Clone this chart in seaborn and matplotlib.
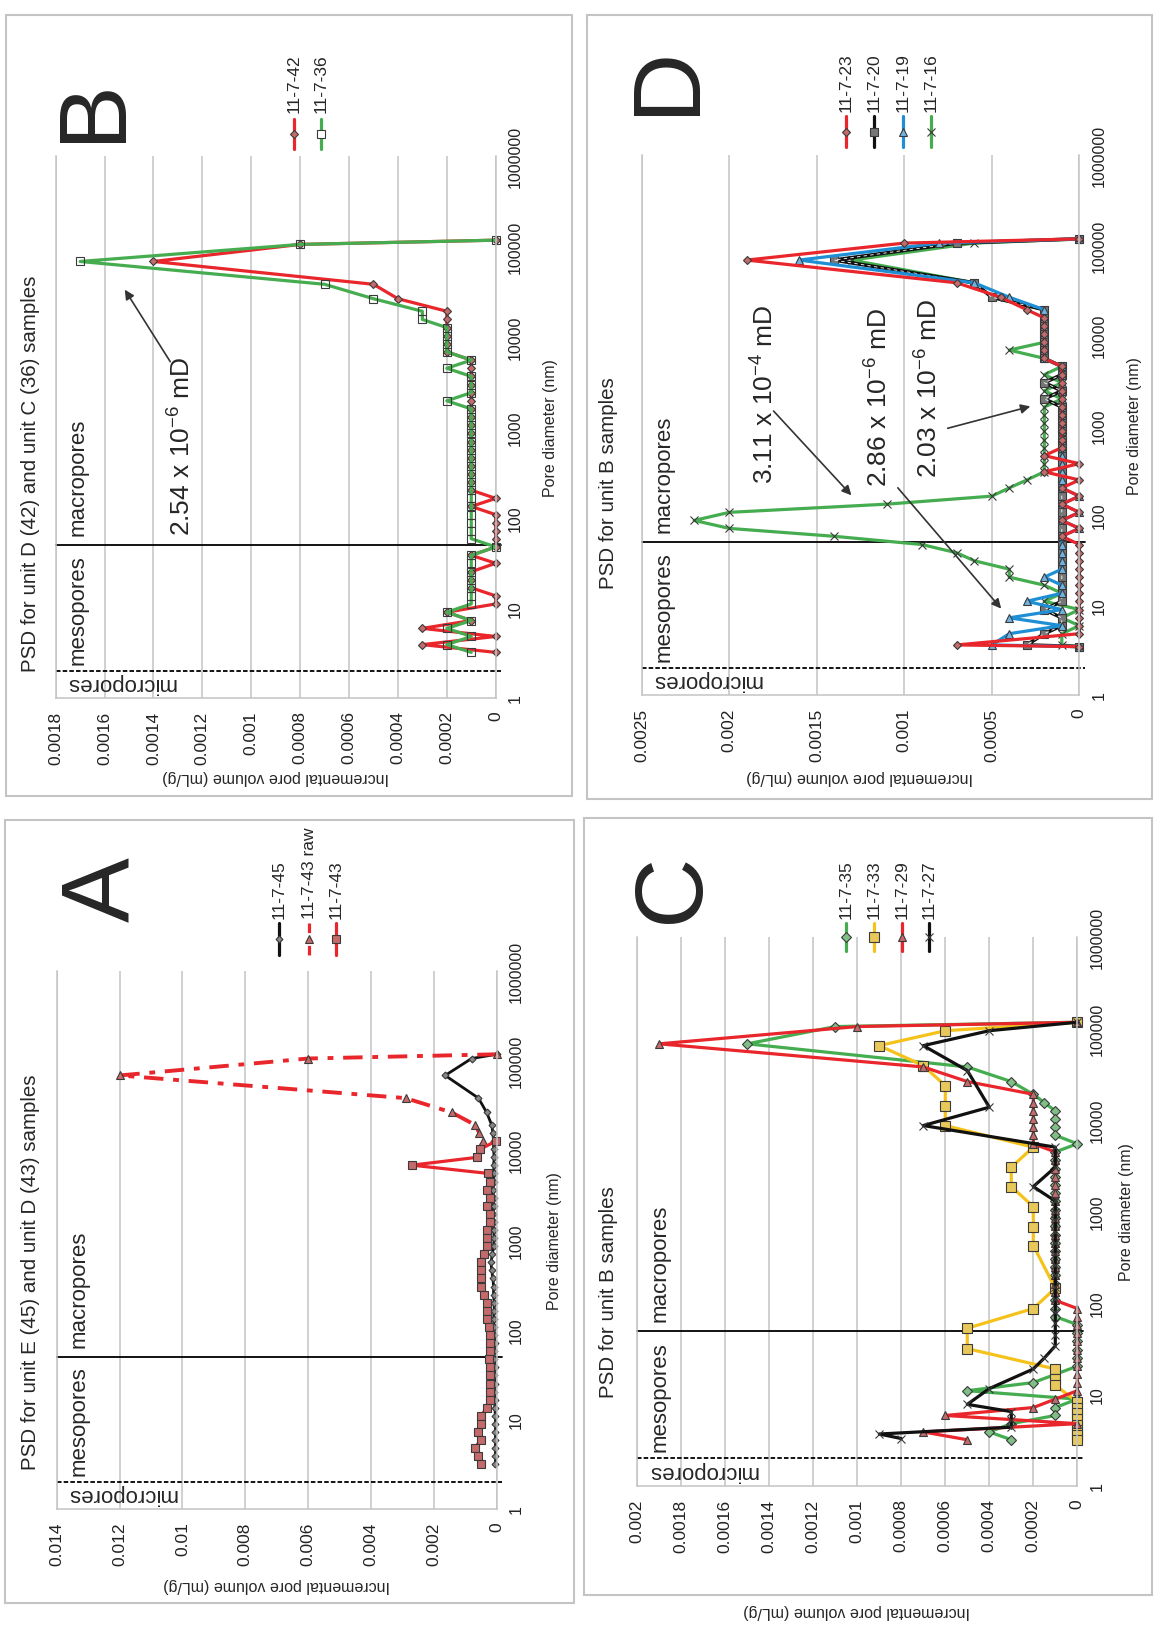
import numpy as np
import pandas as pd
import seaborn as sns
import matplotlib.pyplot as plt
from matplotlib.lines import Line2D
from matplotlib.patches import Rectangle, FancyArrowPatch
from matplotlib.ticker import NullLocator

W, H = 1159, 1631

# pore diameters (nm), largest first, shared by most series
PORE_NM = [117000, 105000, 68000, 38000, 26300, 19100, 15500, 12600, 10200, 8300,
           6800, 5500, 4470, 3630, 2950, 2400, 1950, 1585, 1290, 1050,
           850, 690, 560, 457, 372, 302, 245, 200, 162, 132,
           107, 87, 71, 58, 47, 38, 31, 25, 20.4, 16.6,
           13.5, 11.0, 8.9, 7.2, 5.9, 4.8, 3.9, 3.2]
PORE_D = PORE_NM[:-3] + [4.8, 3.6, 3.45]
PORE_TICKS = [1, 10, 100, 1000, 10000, 100000, 1000000]

A_TICKS = [0, 0.002, 0.004, 0.006, 0.008, 0.01, 0.012, 0.014]
B_TICKS = [0, 0.0002, 0.0004, 0.0006, 0.0008, 0.001, 0.0012, 0.0014, 0.0016, 0.0018]
C_TICKS = [0, 0.0002, 0.0004, 0.0006, 0.0008, 0.001, 0.0012, 0.0014, 0.0016, 0.0018, 0.002]
D_TICKS = [0, 0.0005, 0.001, 0.0015, 0.002, 0.0025]

# panel A: unit E (45) and unit D (43)
A_45 = [0, 0.0008, 0.00164, 0.00058, 0.00032, 0.00016, 0.00012, 0.0001, 0.0001, 0.00008,
        0.0001, 0.00008, 0.0001, 0.00012, 0.0001, 0.0001, 0.00012, 0.0001, 0.0001, 0.00008,
        0.0001, 0.00014, 0.00018, 0.00016, 0.00012, 0.0001, 0.0001, 0.00008, 0.00008, 0.0001,
        0.00008, 0.00008, 0.00006, 0.00008, 0.00008, 0.00006, 0.00008, 0.00006, 0.00008, 0.00006,
        0.00006, 0.00004, 0.00004, 0.00004, 0.00004, 0.00004, 0.00004, 0.00004]
A_43_RAW = [0, 0.006, 0.012, 0.0029, 0.00143, 0.00069, 0.00055, 0.00045, 0.00053]
A_43 = [0.00003, 0.00053, 0.00064, 0.0027, 0.00027, 0.0002, 0.0003, 0.0002, 0.0003, 0.0002,
        0.0002, 0.0003, 0.0003, 0.0003, 0.0004, 0.0005, 0.0005, 0.0005, 0.0005, 0.0004,
        0.0003, 0.0003, 0.0003, 0.00025, 0.0002, 0.0002, 0.0002, 0.00025, 0.0002, 0.0002,
        0.0002, 0.0002, 0.0002, 0.0003, 0.0005, 0.0005, 0.0006, 0.0005, 0.0007, 0.0006,
        0.0005]

# panel B: unit D (42) and unit C (36)
B_42 = ([0, 0.0008, 0.0014, 0.0005, 0.0004, 0.0002, 0.0002, 0.0002, 0.0002, 0.0002, 0.0002]
        + [0.0001] * 17
        + [0, 0.0001, 0, 0, 0, 0, 0, 0.0001, 0, 0.0001, 0.0001, 0.0001, 0, 0]
        + [0.0002, 0.0001, 0.0003, 0, 0.0003, 0])
B_36 = ([0, 0.0008, 0.0017, 0.0007, 0.0005, 0.0003, 0.0003, 0.0002, 0.0002, 0.0002,
         0.0002, 0.0001, 0.0002, 0.0001, 0.0001, 0.0001, 0.0002]
        + [0.0001] * 17 + [0] + [0.0001] * 7
        + [0.0002, 0.0001, 0.0002, 0.0001, 0.0002, 0.0001])

# panel C: unit B
C_35 = ([0, 0.0011, 0.0015, 0.0005, 0.0003, 0.0002, 0.00015, 0.0001, 0.0001, 0.0001, 0.0001, 0]
        + [0.0001] * 21 + [0] * 6
        + [0.0001, 0.0002, 0.0005, 0, 0.0001, 0.0001, 0.0003, 0.0004, 0.0003])
C_33_PORE = [117000, 94600, 65000, 39300, 23700, 14400, 8700, 5050, 3050, 1870,
             1130, 680, 425, 145, 87, 53, 31.7, 19, 14.8, 12.6,
             8.3, 7.2, 6.2, 5.4, 4.7, 4.1, 3.6, 3.2]
C_33 = [0, 0.0006, 0.0009, 0.0007, 0.0006, 0.0006, 0.0006, 0.0002, 0.0003, 0.0003,
        0.0002, 0.0002, 0.0002, 0.0001, 0.0002, 0.0005, 0.0005, 0.0001, 0.0001, 0.0001,
        0, 0, 0, 0, 0, 0, 0, 0]
C_29 = ([0, 0.001, 0.0019, 0.0007, 0.0005] + [0.0002] * 7 + [0.0001] * 19 + [0] * 11
        + [0.0001, 0.0002, 0.0006, 0, 0.0007, 0.0005])
C_27_PORE = [117000, 94600, 65000, 34700, 13800, 8700, 5050, 3050, 1870, 1300,
             1000, 800, 600, 450, 340, 260, 200, 150, 110, 80,
             60, 45, 34, 25, 19, 11.6, 7.8, 6.5, 5.2, 4.4,
             3.7, 3.3]
C_27 = [0, 0.0004, 0.0007, 0.0005, 0.0004, 0.0007, 0.0001, 0.0001, 0.0002, 0.0001,
        0.0001, 0.0001, 0.0001, 0.0001, 0.0001, 0.0001, 0.0001, 0.0001, 0.0001, 0.0001,
        0.0001, 0.0001, 0.0001, 0.00015, 0.0002, 0.0004, 0.0005, 0.0003, 0.0003, 0.0003,
        0.0009, 0.0008]

# panel D: unit B
D_23 = ([0, 0.001, 0.0019, 0.0007, 0.00045, 0.0003] + [0.0002] * 6 + [0.0001] * 11
        + [0.0002, 0, 0.0002, 0, 0.0001, 0, 0.0001, 0, 0.0001, 0, 0.0001]
        + [0] * 12 + [0.0007, 0])
D_20 = ([0, 0.0007, 0.0014, 0.0006, 0.0005] + [0.0002] * 7
        + [0.0001, 0.0001, 0.0002, 0.0001, 0.0002] + [0.0001] * 25
        + [0.0002, 0.0001, 0.0001, 0.0002, 0.0003, 0])
D_19 = ([0, 0.0008, 0.0016, 0.0006, 0.0004] + [0.0002] * 7 + [0.0001] * 16
        + [0, 0.0001, 0, 0.0001, 0] + [0.0001] * 4
        + [0.0001, 0.0002, 0.0001, 0.0001, 0.0003, 0.0001, 0.0004, 0.0001, 0.0004, 0.0005, 0])
D_16 = ([0, 0.0006, 0.0013, 0.0006, 0.0005] + [0.0002] * 5
        + [0.0004, 0.0002, 0.0001, 0.0002, 0.0001, 0.0002, 0.0001] + [0.0002] * 9
        + [0.0003, 0.0004, 0.0005, 0.0011, 0.002, 0.0022, 0.002, 0.0014, 0.0009, 0.0007,
           0.0006, 0.0004, 0.0004, 0.0002, 0.0001, 0.0002, 0, 0.0001, 0, 0.0001, 0.0001, 0])

RED = "#e8262b"
GREEN = "#45ad4f"
BLUE = "#1e8fd5"
YELLOW = "#f5c21b"
BLACK = "#111111"
GRID = "#c4c4c4"
EDGE = "#3a3a3a"

sns.set_style("white")
plt.rcParams["font.family"] = ["Liberation Sans", "DejaVu Sans"]
plt.rcParams["mathtext.fontset"] = "custom"
plt.rcParams["mathtext.rm"] = "Liberation Sans"
plt.rcParams["mathtext.it"] = "Liberation Sans"

fig = plt.figure(figsize=(W / 100, H / 100), dpi=100)


def fxy(x, y):
    return x / W, 1 - y / H


def text_px(x, y, s, **kw):
    fig.text(x / W, 1 - y / H, s, **kw)


def make_axes(x0, y0, x1, y1, ticks):
    ax = fig.add_axes([x0 / W, 1 - y1 / H, (x1 - x0) / W, (y1 - y0) / H])
    ax.set_yscale("log")
    ax.set_ylim(1, 1e6)
    ax.set_xlim(ticks[-1], 0)
    ax.set_xticks(ticks)
    ax.set_xticklabels(["{:g}".format(t) for t in ticks], rotation=90, fontsize=12.5)
    ax.set_yticks(PORE_TICKS)
    ax.set_yticklabels([str(t) for t in PORE_TICKS], rotation=90, va="center", fontsize=11.5)
    ax.yaxis.set_minor_locator(NullLocator())
    ax.yaxis.tick_right()
    ax.tick_params(length=0, pad=9, colors="#222222")
    ax.grid(axis="x", color=GRID, lw=1.1)
    ax.grid(axis="y", visible=False)
    ax.set_axisbelow(True)
    for side in ["left", "right", "bottom"]:
        ax.spines[side].set_color(GRID)
        ax.spines[side].set_linewidth(1.1)
    ax.spines["top"].set_visible(False)
    # pore class boundaries
    ax.axhline(50, xmin=0, xmax=1.012, color="black", lw=1.3, clip_on=False, zorder=2)
    ax.axhline(2, xmin=0, xmax=1.012, color="black", lw=1.3, ls=(0, (2.5, 1.2)),
               clip_on=False, zorder=2)
    tr = ax.get_yaxis_transform()
    ax.text(0.028, 2.4, "mesopores", transform=tr, rotation=90, ha="left", va="bottom", fontsize=16)
    ax.text(0.028, 64, "macropores", transform=tr, rotation=90, ha="left", va="bottom", fontsize=16)
    ax.text(0.148, 1.47, "micropores", transform=tr, rotation=180, ha="center", va="center", fontsize=16)
    return ax


def draw(ax, vol, pore, color, marker, ms, mfc, ls="-", lw=2.3):
    sns.lineplot(x=vol, y=pore[:len(vol)], sort=False, estimator=None, ax=ax, color=color,
                 lw=lw, linestyle=ls, marker=marker, markersize=ms, markerfacecolor=mfc,
                 markeredgecolor=EDGE, markeredgewidth=0.8, clip_on=False, legend=False)


def legend_item(x, y_text, y0, y1, color, marker, ms, mfc, label, ls="-"):
    xs, ys0 = fxy(x, y0)
    _, ys1 = fxy(x, y1)
    fig.add_artist(Line2D([xs, xs], [ys0, ys1], color=color, lw=2.3, ls=ls,
                          transform=fig.transFigure))
    fig.add_artist(Line2D([xs], [(ys0 + ys1) / 2], marker=marker, ms=ms, mfc=mfc,
                          mec=EDGE, mew=0.8, transform=fig.transFigure))
    text_px(x, y_text, label, rotation=90, ha="center", va="bottom", fontsize=12.5)


def arrow(x0, y0, x1, y1):
    fig.add_artist(FancyArrowPatch(fxy(x0, y0), fxy(x1, y1), transform=fig.transFigure,
                                   arrowstyle="-|>", mutation_scale=14, lw=1.2,
                                   color="#333333"))


def panel_box(x0, y0, x1, y1):
    fig.add_artist(Rectangle(fxy(x0, y1), (x1 - x0) / W, (y1 - y0) / H, fill=False,
                             ec="#c4c4c4", lw=1.5, transform=fig.transFigure))


def frame_texts(title, tx, ty, letter, lx, ly, xl, yl):
    text_px(tx, ty, title, rotation=90, ha="center", va="bottom", fontsize=14.8)
    text_px(lx, ly, letter, rotation=90, ha="center", va="center", fontsize=70)
    text_px(xl[0], xl[1], "Incremental pore volume (mL/g)", rotation=180,
            ha="center", va="center", fontsize=11.5)
    text_px(yl[0], yl[1], "Pore diameter (nm)", rotation=90,
            ha="center", va="center", fontsize=11.5)


# ---------- panel B ----------
panel_box(6, 16, 572, 797)
ax_b = make_axes(55.7, 157, 495.7, 699, B_TICKS)
draw(ax_b, B_42, PORE_NM, RED, "D", 4.5, "#c46a6a")
draw(ax_b, B_36, PORE_NM, GREEN, "s", 6, "none")
frame_texts("PSD for unit D (42) and unit C (36) samples", 31, 672, "B", 94, 110,
            (276, 777), (551, 428))
legend_item(294, 113, 120, 150, RED, "D", 4.5, "#c46a6a", "11-7-42")
legend_item(321, 113, 120, 150, GREEN, "s", 6, "white", "11-7-36")
text_px(182, 536, "2.54 x 10$^{-6}$ mD", rotation=90, ha="center", va="bottom", fontsize=19)
arrow(171.7, 365, 123.3, 288.3)

# ---------- panel D ----------
panel_box(587, 16, 1152, 800)
ax_d = make_axes(641.7, 156, 1079.3, 696, D_TICKS)
draw(ax_d, D_16, PORE_D, GREEN, "x", 6, GREEN)
draw(ax_d, D_20, PORE_D, BLACK, "s", 5.5, "#777777", lw=2.6)
sns.lineplot(x=D_20, y=PORE_D, sort=False, estimator=None, ax=ax_d, color="white",
             lw=0.6, linestyle=(0, (4, 4)), clip_on=False, legend=False)
draw(ax_d, D_19, PORE_D, BLUE, "^", 5.5, "#6fb3e0")
draw(ax_d, D_23, PORE_D, RED, "D", 4.5, "#c46a6a")
frame_texts("PSD for unit B samples", 609, 589, "D", 668, 80, (860, 777), (1134, 426))
legend_item(846, 112, 117, 148, RED, "D", 4.5, "#c46a6a", "11-7-23")
legend_item(874, 112, 117, 148, BLACK, "s", 5.5, "#777777", "11-7-20")
legend_item(903, 112, 117, 148, BLUE, "^", 5.5, "#6fb3e0", "11-7-19")
legend_item(931, 112, 117, 148, GREEN, "x", 6, GREEN, "11-7-16")
text_px(765, 484, "3.11 x 10$^{-4}$ mD", rotation=90, ha="center", va="bottom", fontsize=19)
text_px(879, 487, "2.86 x 10$^{-6}$ mD", rotation=90, ha="center", va="bottom", fontsize=19)
text_px(929, 478, "2.03 x 10$^{-6}$ mD", rotation=90, ha="center", va="bottom", fontsize=19)
arrow(771.7, 410, 853.3, 498.3)
arrow(896, 486.7, 1003, 611.7)
arrow(945, 430, 1033, 406.7)

# ---------- panel A ----------
panel_box(5, 821, 574, 1604)
ax_a = make_axes(56.7, 971.7, 496.7, 1510, A_TICKS)
draw(ax_a, A_45, PORE_NM, BLACK, "D", 3.5, "#888888", lw=2.0)
draw(ax_a, A_43_RAW, PORE_NM, RED, "^", 6, "#c46a6a", ls=(0, (5, 2.5, 1.5, 2.5)), lw=2.8)
draw(ax_a, A_43, PORE_NM[7:], RED, "s", 6, "#c46a6a")
frame_texts("PSD for unit E (45) and unit D (43) samples", 31, 1470, "A", 103, 890,
            (277, 1586), (554, 1241))
legend_item(279, 919, 924, 956, BLACK, "D", 3.5, "#888888", "11-7-45")
legend_item(309, 919, 924, 956, RED, "^", 6, "#c46a6a", "11-7-43 raw", ls=(0, (3, 1.5, 1, 1.5)))
legend_item(336, 919, 924, 956, RED, "s", 6, "#c46a6a", "11-7-43")

# ---------- panel C ----------
panel_box(584, 819, 1152, 1596)
ax_c = make_axes(637.3, 938, 1077.3, 1487, C_TICKS)
draw(ax_c, C_35, PORE_NM, GREEN, "D", 5, "#7fbf86")
draw(ax_c, C_33, C_33_PORE, YELLOW, "s", 6.5, "#e8c85a")
draw(ax_c, C_29, PORE_NM, RED, "^", 6, "#c46a6a")
draw(ax_c, C_27, C_27_PORE, BLACK, "x", 6, BLACK)
frame_texts("PSD for unit B samples", 609, 1398, "C", 673, 888, (857, 1612), (1126, 1212))
legend_item(846, 919, 924, 952, GREEN, "D", 5, "#7fbf86", "11-7-35")
legend_item(874, 919, 924, 952, YELLOW, "s", 6.5, "#e8c85a", "11-7-33")
legend_item(902, 919, 924, 952, RED, "^", 6, "#c46a6a", "11-7-29")
legend_item(929, 919, 924, 952, BLACK, "x", 6, BLACK, "11-7-27")

fig.savefig("out.png", dpi=100)
